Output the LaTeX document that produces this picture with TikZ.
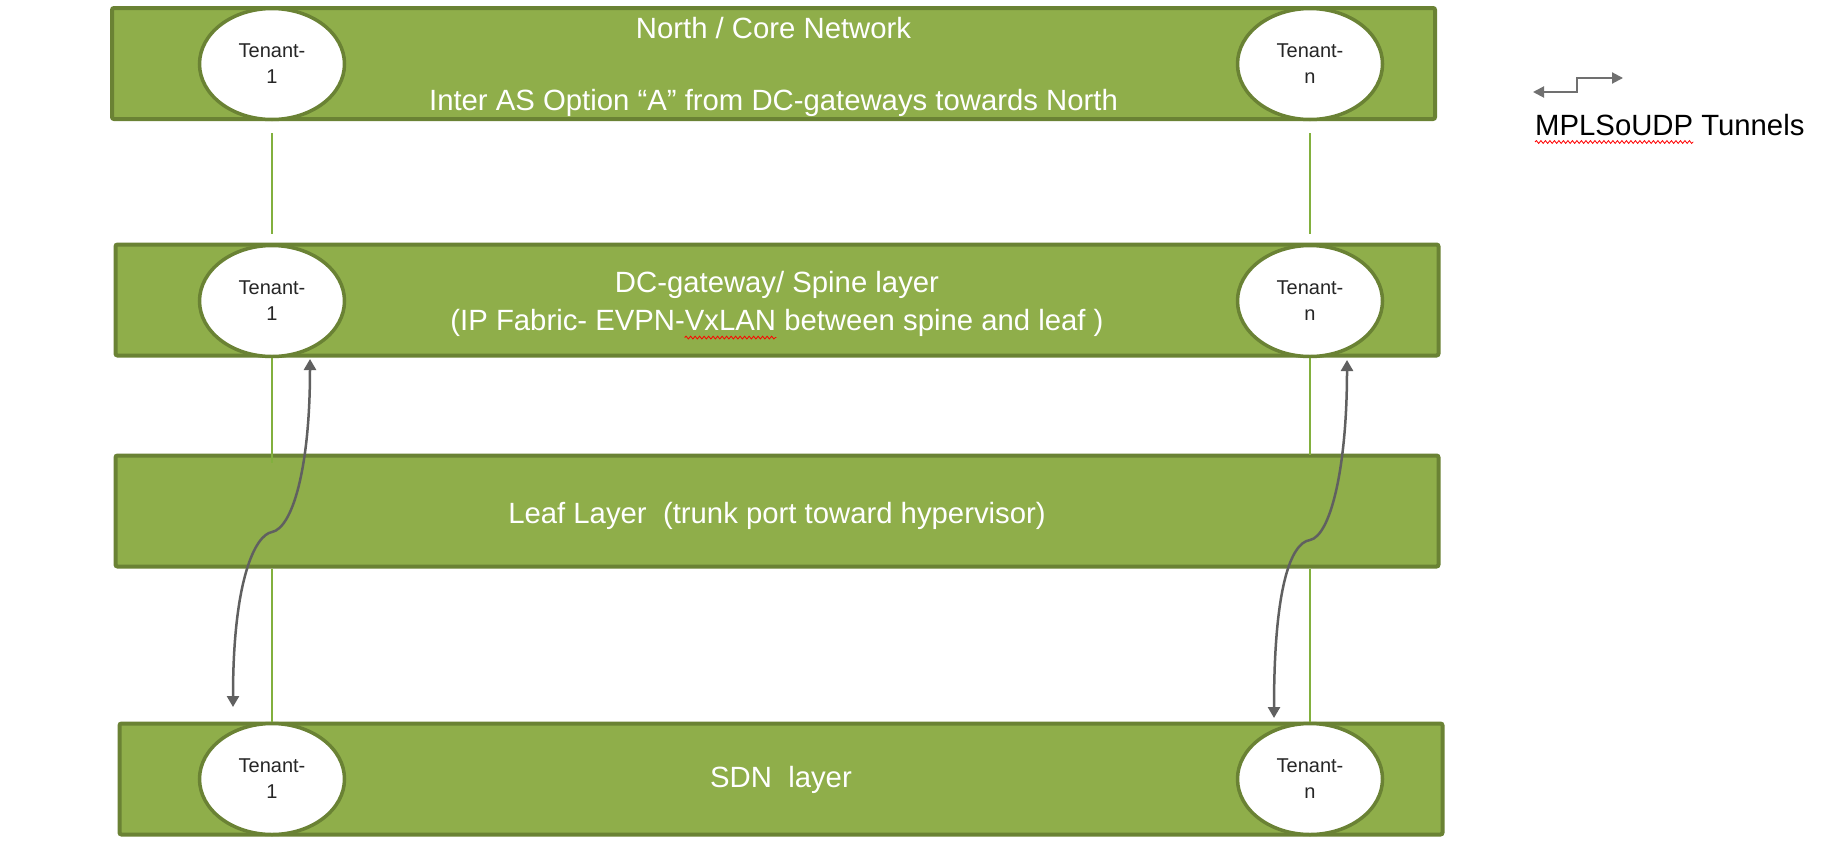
\documentclass[tikz,border=0pt]{standalone}
\usepackage[svgnames]{xcolor}
\usepackage{fontspec}
\setmainfont{Liberation Sans}
\usetikzlibrary{calc, shapes.geometric, arrows.meta, decorations.pathmorphing}
\definecolor{barfill}{RGB}{143,174,74}
\definecolor{barline}{RGB}{106,130,52}
\definecolor{linkgreen}{RGB}{130,176,62}
\definecolor{tunnelgray}{RGB}{96,96,96}
\definecolor{tenanttext}{RGB}{38,38,38}
\newcommand{\barfont}{\fontsize{29.3}{36}\selectfont}
\newcommand{\tenfont}{\fontsize{20}{26}\selectfont}
\newcommand{\redwave}[1]{\tikz[baseline=(w.base)]{\node[inner sep=0pt, minimum width=0pt, minimum height=0pt] (w) {#1};
  \draw[overlay, red, line width=0.8pt, decorate, decoration={snake, segment length=4.5pt, amplitude=1.4pt}]
    ($(w.base west)+(0pt,-7pt)$) -- ($(w.base east)+(0pt,-7pt)$);}}
\tikzset{
  band/.style={draw=barline, fill=barfill, line width=4pt, rounded corners=2pt,
    minimum width=1323pt, minimum height=111pt, inner sep=0pt},
  bandtext/.style={text=white, font=\barfont, align=center, inner sep=0pt},
  tenant/.style={ellipse, draw=barline, fill=white, line width=3.5pt,
    minimum width=145pt, minimum height=111pt, inner sep=0pt,
    text=tenanttext, font=\tenfont, align=center},
  link/.style={draw=linkgreen, line width=2pt},
  tunnel/.style={draw=tunnelgray, line width=2.5pt,
    {Triangle[width=12pt,length=11pt]}-{Triangle[width=12pt,length=11pt]}},
  legendarrow/.style={draw=tunnelgray!90, line width=2pt,
    {Triangle[width=11pt,length=11pt]}-{Triangle[width=11pt,length=11pt]}},
}

\begin{document}
\begin{tikzpicture}[x=1pt, y=-1pt]
\fill[white] (0,0) rectangle (1838,846);
\useasboundingbox (0,0) rectangle (1838,846);

\node[band] (north) at (773.5,63.5) {};
\node[band] (spine) at (777,300) {};
\node[band] (leaf) at (777,511) {};
\node[band] (sdn) at (781,779) {};
\node[bandtext] (northtext) at ($(north)+(0,3)$) {North / Core Network\\[36pt]Inter AS Option “A” from DC-gateways towards North};
\node[bandtext] (spinetext) at ($(spine)+(0,4)$) {DC-gateway/ Spine layer\\[2pt](IP Fabric- EVPN-\redwave{VxLAN} between spine and leaf )};
\node[bandtext] (leaftext) at ($(leaf)+(0,4.5)$) {Leaf Layer~~(trunk port toward hypervisor)};
\node[bandtext] (sdntext) at ($(sdn)+(0,1)$) {SDN~~layer};

\node[tenant] (t1north) at (272,64) {Tenant-\\1};
\node[tenant] (tnnorth) at (1310,64) {Tenant-\\n};
\node[tenant] (t1spine) at (272,301) {Tenant-\\1};
\node[tenant] (tnspine) at (1310,301) {Tenant-\\n};
\node[tenant] (t1sdn) at (272,779) {Tenant-\\1};
\node[tenant] (tnsdn) at (1310,779) {Tenant-\\n};

\draw[link] ($(t1north.south)+(0,12)$) -- ($(t1spine.north)+(0,-10)$);
\draw[link] ($(tnnorth.south)+(0,12)$) -- ($(tnspine.north)+(0,-10)$);
\draw[link] (t1spine.south) -- ($(t1spine.south |- leaf.north)+(0,9)$);
\draw[link] (tnspine.south) -- ($(tnspine.south |- leaf.north)+(0,1)$);
\draw[link] (t1spine.south |- leaf.south) -- (t1sdn.north);
\draw[link] (tnspine.south |- leaf.south) -- (tnsdn.north);

\coordinate (a1bot) at (233,707);
\coordinate (a1mid) at (272,532);
\coordinate (a1top) at (310,359);
\coordinate (anbot) at (1274,718);
\coordinate (anmid) at (1310,540);
\coordinate (antop) at (1347,360);
\draw[tunnel] (a1bot) .. controls (233,580) and (255,535) .. (a1mid) .. controls (292,528) and (310,470) .. (a1top);
\draw[tunnel] (anbot) .. controls (1274,590) and (1290,543) .. (anmid) .. controls (1330,536) and (1347,470) .. (antop);

\coordinate (lgleft) at (1533,92);
\coordinate (lgright) at (1623,78);
\draw[legendarrow] (lgleft) -- ++(44,0) |- (lgright);
\node[anchor=base west, inner sep=0pt, font=\barfont] (lgtext) at (1535,135) {\redwave{MPLSoUDP} Tunnels};
\end{tikzpicture}
\end{document}
